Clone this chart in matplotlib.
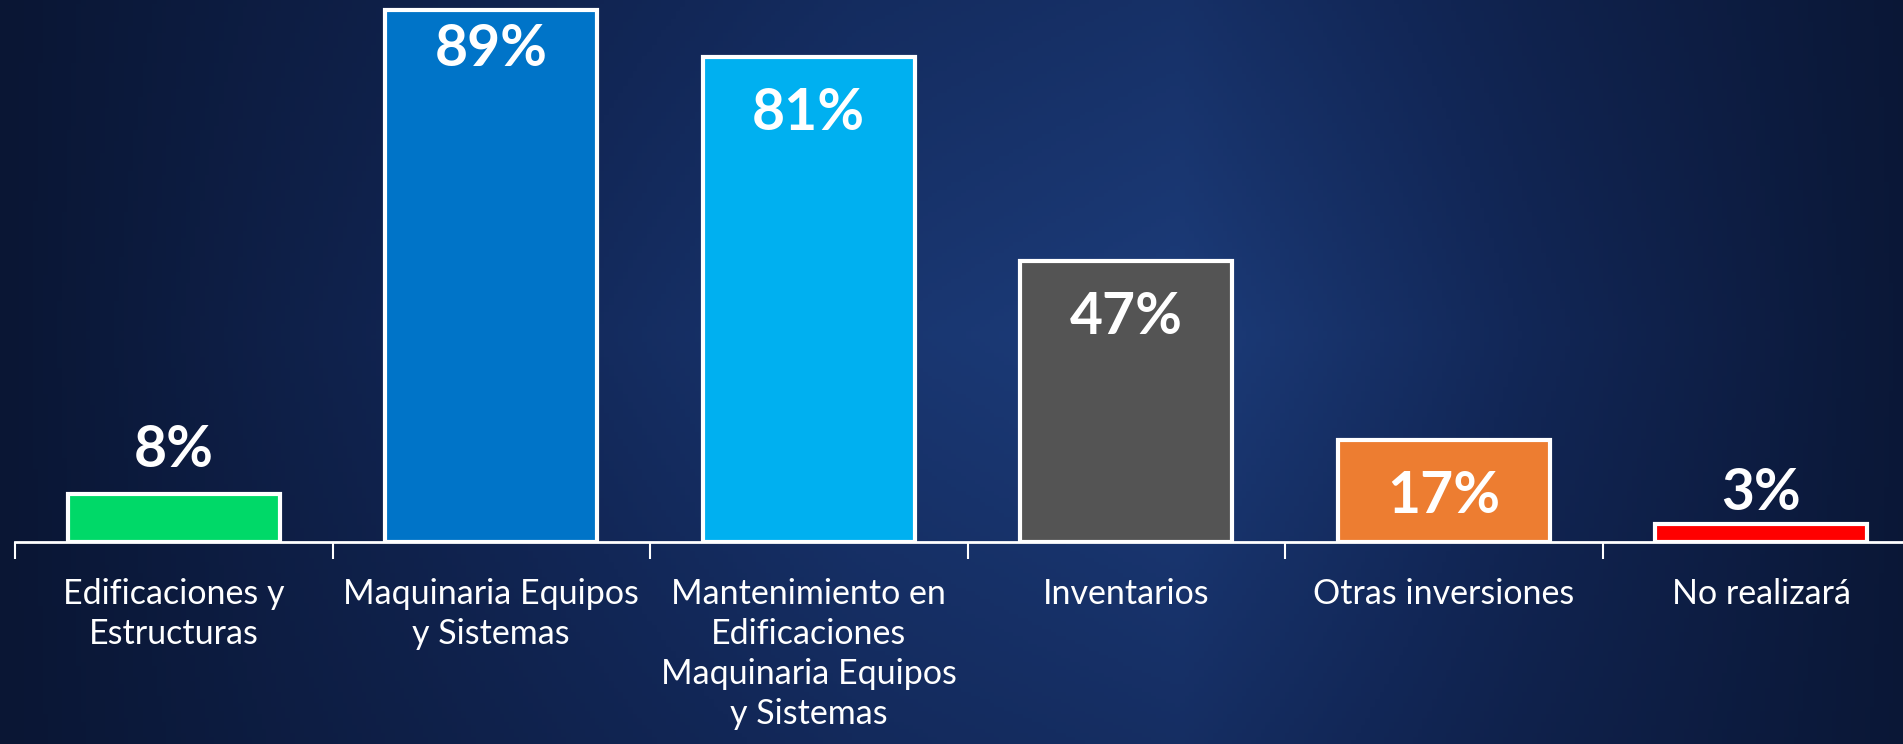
import numpy as np
import matplotlib
matplotlib.use("Agg")
import matplotlib.pyplot as plt
from matplotlib.colors import LinearSegmentedColormap

categories = ["Edificaciones y\nEstructuras", "Maquinaria Equipos\ny Sistemas",
              "Mantenimiento en\nEdificaciones\nMaquinaria Equipos\ny Sistemas",
              "Inventarios", "Otras inversiones", "No realizará"]
values = [8, 89, 81, 47, 17, 3]
labels = ["8%", "89%", "81%", "47%", "17%", "3%"]
colors = ["#00d968", "#0074c8", "#00b0f0", "#545454", "#ed7d31", "#ff0000"]
inside = [False, True, True, True, True, False]

W, H = 1903, 744
fig = plt.figure(figsize=(W / 100, H / 100), dpi=100)

# background gradient
bg = fig.add_axes([0, 0, 1, 1], zorder=0)
bg.axis("off")
xs = np.linspace(0, 1, 400)
ys = np.linspace(0, 1, 200)
X, Y = np.meshgrid(xs, ys)
hx = np.interp(X, [0, 0.15, 0.45, 0.62, 0.8, 1.0], [0.0, 0.3, 0.85, 1.0, 0.5, 0.05])
vy = 1 - 0.3 * np.abs(Y - 0.45) * 2
Z = np.clip(hx * vy, 0, 1)
cmap = LinearSegmentedColormap.from_list("bgc", ["#0a1634", "#122757", "#1c3c7a"])
bg.imshow(Z, cmap=cmap, aspect="auto", extent=[0, 1, 0, 1], origin="upper", vmin=0, vmax=1)
bg.set_xlim(0, 1)
bg.set_ylim(0, 1)

left = 15 / W
cat_w = 317.5 / W
bottom = (H - 542) / H
ax = fig.add_axes([left, bottom, cat_w * 6, 542 / H], zorder=1)
ax.patch.set_alpha(0)
x = np.arange(len(categories))
ax.bar(x, values, width=0.667, color=colors, edgecolor="white", linewidth=3, zorder=3)
ax.set_xlim(-0.5, len(categories) - 0.5)
ax.set_ylim(0, 90.6)
for s in ["top", "right", "left"]:
    ax.spines[s].set_visible(False)
ax.spines["bottom"].set_color("white")
ax.spines["bottom"].set_linewidth(2)
ax.set_yticks([])
ax.set_xticks(np.arange(-0.5, len(categories), 1.0), minor=False)
ax.set_xticklabels([])
ax.tick_params(axis="x", which="major", length=12, width=1.5, color="white")
ax.set_xticks(x, minor=True)
ax.set_xticklabels(categories, minor=True, fontsize=24.5, color="white",
                   family="Lato", linespacing=1.3, va="top")
ax.tick_params(axis="x", which="minor", length=0, pad=26)

inside_offsets = {1: 2.2}
outside_offsets = {0: 4.5, 5: 2.4}
for i, (xi, v, lab, ins) in enumerate(zip(x, values, labels, inside)):
    if ins:
        ax.text(xi, v - inside_offsets.get(i, 5.0), lab, ha="center", va="top", color="white",
                fontsize=41, fontweight="bold", family="Lato", zorder=4)
    else:
        ax.text(xi, v + outside_offsets.get(i, 3.5), lab, ha="center", va="baseline",
                color="white", fontsize=41, fontweight="bold", family="Lato", zorder=4)

fig.savefig("out.png", dpi=100)
